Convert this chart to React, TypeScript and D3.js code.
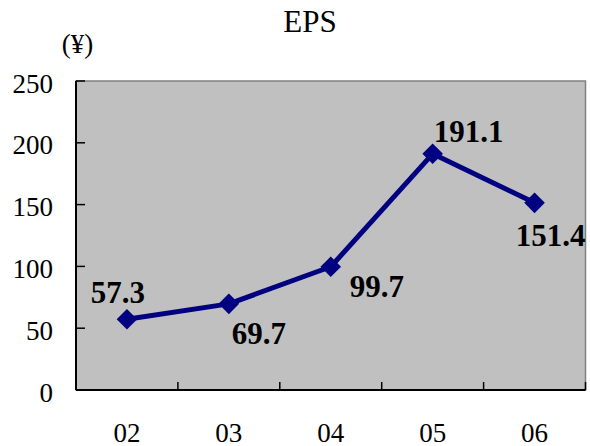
import React from "react";
import * as d3 from "d3";

// EPS by fiscal year (yen)
const years: string[] = ["02", "03", "04", "05", "06"];
const eps: number[] = [57.3, 69.7, 99.7, 191.1, 151.4];
const yTicks: number[] = [0, 50, 100, 150, 200, 250];

// label offsets relative to each point: [dx of text centre, dy of baseline]
const labelOffsets: [number, number][] = [
  [-9, -16],
  [30, 40],
  [46, 30],
  [36, -12],
  [16, 43],
];

const W = 590;
const H = 446;
const M = { left: 76, right: 585.5, top: 81, bottom: 390 };
const SERIF = "'Liberation Serif', 'Times New Roman', serif";
const NAVY = "#000080";

export default function App() {
  const x = d3.scaleBand<string>().domain(years).range([M.left, M.right]);
  const y = d3.scaleLinear().domain([0, 250]).range([M.bottom, M.top]);
  const cx = (d: string) => (x(d) ?? 0) + x.bandwidth() / 2;

  const line = d3
    .line<number>()
    .x((_, i) => cx(years[i]))
    .y((v) => y(v));

  const diamond = d3.symbol().type(d3.symbolDiamond2).size(270)();

  const boundaries = years.map((d) => (x(d) ?? 0) + x.bandwidth());

  return (
    <svg
      width={W}
      height={H}
      style={{ position: "absolute", left: 0, top: 0, background: "#fff" }}
      fontFamily={SERIF}
    >
      <text x={310} y={32} fontSize={31} textAnchor="middle" fill="#000">
        EPS
      </text>
      <text x={77.5} y={53} fontSize={27} textAnchor="middle" fill="#000">
        (¥)
      </text>

      {/* plot area */}
      <rect
        x={M.left}
        y={M.top}
        width={M.right - M.left}
        height={M.bottom - M.top}
        fill="#c0c0c0"
        stroke="#808080"
        strokeWidth={1.5}
      />

      {/* y axis */}
      <line x1={M.left} x2={M.left} y1={M.top} y2={M.bottom} stroke="#000" strokeWidth={2} />
      {yTicks.map((t) => (
        <g key={t}>
          <line x1={M.left} x2={M.left + 9} y1={y(t)} y2={y(t)} stroke="#000" strokeWidth={1.5} />
          <text x={53} y={y(t) + 11.5} fontSize={27} textAnchor="end" fill="#000">
            {t}
          </text>
        </g>
      ))}

      {/* x axis */}
      <line x1={M.left} x2={M.right} y1={M.bottom} y2={M.bottom} stroke="#000" strokeWidth={2} />
      {boundaries.map((bx, i) => (
        <line key={i} x1={bx} x2={bx} y1={M.bottom} y2={M.bottom - 8} stroke="#000" strokeWidth={1.5} />
      ))}
      {years.map((d) => (
        <text key={d} x={cx(d)} y={441.5} fontSize={27} textAnchor="middle" fill="#000">
          {d}
        </text>
      ))}

      {/* series */}
      <path d={line(eps) ?? ""} fill="none" stroke={NAVY} strokeWidth={5} strokeLinejoin="round" />
      {eps.map((v, i) => (
        <path key={i} d={diamond ?? ""} transform={`translate(${cx(years[i])},${y(v)})`} fill={NAVY} />
      ))}
      {eps.map((v, i) => (
        <text
          key={i}
          x={cx(years[i]) + labelOffsets[i][0]}
          y={y(v) + labelOffsets[i][1]}
          fontSize={31}
          fontWeight="bold"
          textAnchor="middle"
          fill="#000"
        >
          {v.toFixed(1)}
        </text>
      ))}
    </svg>
  );
}
